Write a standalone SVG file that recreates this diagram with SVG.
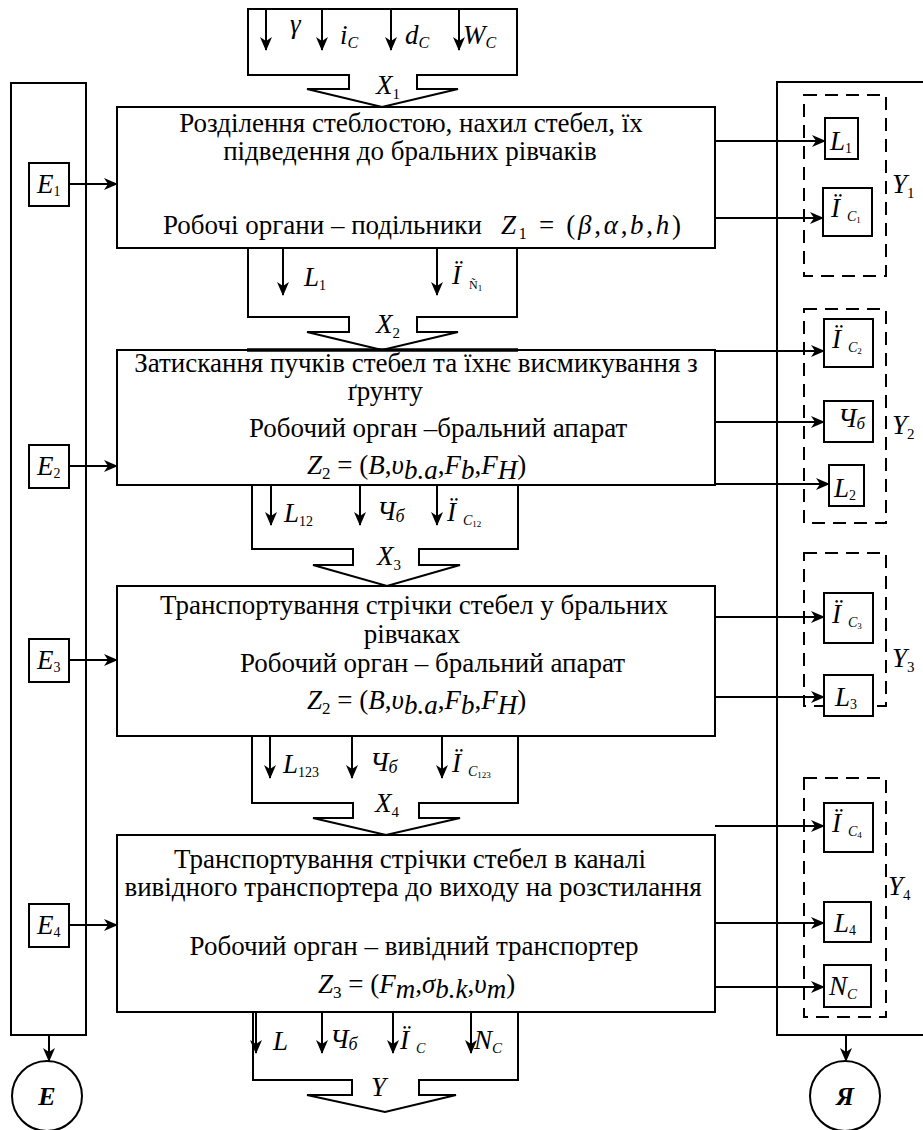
<svg xmlns="http://www.w3.org/2000/svg" width="923" height="1130" viewBox="0 0 923 1130">
<style>
.ln{stroke:#000;stroke-width:2;fill:none}
.bx{fill:#fff;stroke:#000;stroke-width:2}
.dsh{fill:none;stroke:#000;stroke-width:2;stroke-dasharray:13 8}
.t{font-family:"Liberation Serif","Times New Roman",serif;font-size:27px;fill:#000}
.m{font-family:"Liberation Serif","Times New Roman",serif;font-style:italic;font-size:27px;fill:#000}
.lb{font-family:"Liberation Serif","Times New Roman",serif;font-style:italic;font-size:27px;fill:#000}
.c{font-family:"Liberation Serif","Times New Roman",serif;font-style:italic;font-weight:bold;font-size:26px;fill:#000}
.ar{stroke:#000;stroke-width:2;fill:none;marker-end:url(#ah)}
</style>
<defs>
<marker id="ah" markerUnits="userSpaceOnUse" markerWidth="14" markerHeight="12" refX="13" refY="6" orient="auto">
<path d="M0,0 L14,6 L0,12 L4,6 Z" fill="#000"/>
</marker>
</defs>

<g id="E-column">
<rect class="bx" x="11" y="83" width="75" height="952"/>
</g>
<g id="Y-column">
<rect class="bx" x="777" y="82" width="160" height="953"/>
</g>

<g id="input-X1">
<path class="bx" d="M248,9 L517,9 L517,75 L417,75 L417,89 L458,89 L382,107 L307,89 L349,89 L349,75 L248,75 Z"/>
<text class="lb" x="290" y="33" font-size="24">γ</text>
<text class="lb" x="340" y="44">i<tspan font-size="16" dy="4">C</tspan></text>
<text class="lb" x="405" y="44">d<tspan font-size="16" dy="4">C</tspan></text>
<text class="lb" x="463" y="44">W<tspan font-size="16" dy="4">C</tspan></text>
<text class="m" x="376" y="94" font-size="26">X<tspan font-size="15" font-style="normal" dy="5">1</tspan></text>
</g>

<g id="output-X2">
<path class="bx" d="M248,248 L248,317 L349,317 L349,332 L307,332 L382,350 L458,332 L417,332 L417,317 L517,317 L517,248"/>
<text class="lb" x="304" y="286">L<tspan font-size="14" font-style="normal" dy="4">1</tspan></text>
<text class="lb" x="452" y="284">Ï<tspan font-size="12" font-style="normal" dx="8" dy="5">Ñ</tspan><tspan font-size="9" font-style="normal" dy="2">1</tspan></text>
<text class="m" x="376" y="333" font-size="26">X<tspan font-size="15" font-style="normal" dy="5">2</tspan></text>
</g>

<g id="output-X3">
<path class="bx" d="M252,485 L252,549 L353,549 L353,565 L313,565 L387,586 L460,565 L419,565 L419,549 L518,549 L518,485"/>
<text class="lb" x="284" y="522">L<tspan font-size="14" font-style="normal" dy="4">12</tspan></text>
<text class="lb" x="377" y="520" font-size="24">Ч<tspan font-size="18" dy="2">б</tspan></text>
<text class="lb" x="447" y="521">Ï<tspan font-size="14" dx="7" dy="4">C</tspan><tspan font-size="9" font-style="normal" dy="2">12</tspan></text>
<text class="m" x="377" y="565" font-size="26">X<tspan font-size="15" font-style="normal" dy="5">3</tspan></text>
</g>

<g id="output-X4">
<path class="bx" d="M252,736 L252,803 L353,803 L353,818 L313,818 L386,835 L460,818 L419,818 L419,803 L518,803 L518,736"/>
<text class="lb" x="283" y="773">L<tspan font-size="14" font-style="normal" dy="4">123</tspan></text>
<text class="lb" x="370" y="771" font-size="24">Ч<tspan font-size="18" dy="2">б</tspan></text>
<text class="lb" x="452" y="772">Ï<tspan font-size="14" dx="7" dy="4">C</tspan><tspan font-size="9" font-style="normal" dy="2">123</tspan></text>
<text class="m" x="375" y="812" font-size="26">X<tspan font-size="15" font-style="normal" dy="5">4</tspan></text>
</g>

<g id="output-Y">
<path class="bx" d="M253,1012 L253,1080 L352,1080 L352,1095 L307,1095 L385,1112 L456,1095 L419,1095 L419,1080 L518,1080 L518,1012"/>
<text class="lb" x="273" y="1050">L</text>
<text class="lb" x="330" y="1048" font-size="24">Ч<tspan font-size="18" dy="2">б</tspan></text>
<text class="lb" x="400" y="1049">Ï<tspan font-size="14" dx="7" dy="4">C</tspan></text>
<text class="lb" x="474" y="1049">N<tspan font-size="15" dy="4">C</tspan></text>
<text class="m" x="371" y="1096" font-size="26">Y</text>
</g>

<g id="block1">
<rect class="bx" x="117" y="107" width="598" height="141"/>
<text class="t" x="411" y="132" text-anchor="middle">Розділення стеблостою, нахил стебел, їх</text>
<text class="t" x="410" y="160" text-anchor="middle">підведення до бральних рівчаків</text>
<text class="t" x="163" y="234">Робочі органи – подільники</text>
<text class="t" x="501" y="234" textLength="180" lengthAdjust="spacing"><tspan class="m" font-size="31">Z</tspan><tspan font-size="16" dy="5">1</tspan><tspan dy="-5"> = (</tspan><tspan class="m" font-size="31">β</tspan>,<tspan class="m" font-size="31">α</tspan>,<tspan class="m" font-size="31">b</tspan>,<tspan class="m" font-size="31">h</tspan>)</text>
</g>

<g id="block2">
<rect class="bx" x="117" y="350" width="598" height="135"/>
<text class="t" x="416" y="372" text-anchor="middle">Затискання пучків стебел та їхнє висмикування з</text>
<text class="t" x="385" y="400" text-anchor="middle">ґрунту</text>
<text class="t" x="249" y="437">Робочий орган –бральний апарат</text>
<text class="t" x="307" y="474"><tspan class="m">Z</tspan><tspan font-size="17" dy="5">2</tspan><tspan dy="-5"> = (</tspan><tspan class="m">B</tspan>,<tspan class="m">υ</tspan><tspan class="m" font-size="17" dy="5">b.a</tspan><tspan dy="-5">,</tspan><tspan class="m">F</tspan><tspan class="m" font-size="17" dy="5">b</tspan><tspan dy="-5">,</tspan><tspan class="m">F</tspan><tspan class="m" font-size="17" dy="5">H</tspan><tspan dy="-5">)</tspan></text>
</g>

<g id="block3">
<rect class="bx" x="117" y="586" width="598" height="150"/>
<text class="t" x="414" y="614" text-anchor="middle">Транспортування стрічки стебел у бральних</text>
<text class="t" x="412" y="643" text-anchor="middle">рівчаках</text>
<text class="t" x="240" y="672">Робочий орган – бральний апарат</text>
<text class="t" x="307" y="709"><tspan class="m">Z</tspan><tspan font-size="17" dy="5">2</tspan><tspan dy="-5"> = (</tspan><tspan class="m">B</tspan>,<tspan class="m">υ</tspan><tspan class="m" font-size="17" dy="5">b.a</tspan><tspan dy="-5">,</tspan><tspan class="m">F</tspan><tspan class="m" font-size="17" dy="5">b</tspan><tspan dy="-5">,</tspan><tspan class="m">F</tspan><tspan class="m" font-size="17" dy="5">H</tspan><tspan dy="-5">)</tspan></text>
</g>

<g id="block4">
<rect class="bx" x="117" y="835" width="598" height="177"/>
<text class="t" x="410" y="868" text-anchor="middle">Транспортування стрічки стебел в каналі</text>
<text class="t" x="413" y="896" text-anchor="middle">вивідного транспортера до виходу на розстилання</text>
<text class="t" x="414" y="955" text-anchor="middle">Робочий орган – вивідний транспортер</text>
<text class="t" x="318" y="993"><tspan class="m">Z</tspan><tspan font-size="17" dy="5">3</tspan><tspan dy="-5"> = (</tspan><tspan class="m">F</tspan><tspan class="m" font-size="17" dy="5">m</tspan><tspan dy="-5">,</tspan><tspan class="m">σ</tspan><tspan class="m" font-size="17" dy="5">b.k</tspan><tspan dy="-5">,</tspan><tspan class="m">υ</tspan><tspan class="m" font-size="17" dy="5">m</tspan><tspan dy="-5">)</tspan></text>
</g>

<line x1="247" y1="350" x2="518" y2="350" stroke="#000" stroke-width="3.5"/>

<g id="E1"><rect class="bx" x="29" y="163" width="40" height="43"/><text class="m" x="37" y="193">E<tspan font-size="14" font-style="normal" dy="3">1</tspan></text></g>
<g id="E2"><rect class="bx" x="29" y="445" width="40" height="43"/><text class="m" x="37" y="475">E<tspan font-size="14" font-style="normal" dy="3">2</tspan></text></g>
<g id="E3"><rect class="bx" x="29" y="639" width="40" height="43"/><text class="m" x="37" y="669">E<tspan font-size="14" font-style="normal" dy="3">3</tspan></text></g>
<g id="E4"><rect class="bx" x="29" y="904" width="40" height="43"/><text class="m" x="37" y="934">E<tspan font-size="14" font-style="normal" dy="3">4</tspan></text></g>

<g id="Y1">
<rect class="dsh" x="804" y="95" width="82" height="181"/>
<text class="lb" x="892" y="193">Y<tspan font-size="15" font-style="normal" dy="5">1</tspan></text>
<rect class="bx" x="825" y="118" width="33" height="41"/><text class="lb" x="830" y="150" font-size="29">L<tspan font-size="14" font-style="normal" dy="3">1</tspan></text>
<rect class="bx" x="823" y="188" width="49" height="48"/><text class="lb" x="831" y="217">Ï<tspan font-size="14" dx="7" dy="4">C</tspan><tspan font-size="9" font-style="normal" dy="2">1</tspan></text>
</g>
<g id="Y2">
<rect class="dsh" x="804" y="309" width="82" height="214"/>
<text class="lb" x="892" y="434">Y<tspan font-size="15" font-style="normal" dy="5">2</tspan></text>
<rect class="bx" x="824" y="319" width="49" height="48"/><text class="lb" x="832" y="348">Ï<tspan font-size="14" dx="7" dy="4">C</tspan><tspan font-size="9" font-style="normal" dy="2">2</tspan></text>
<rect class="bx" x="824" y="401" width="49" height="41"/><text class="lb" x="838" y="427" font-size="22">Ч<tspan font-size="17" dy="2">б</tspan></text>
<rect class="bx" x="829" y="465" width="35" height="41"/><text class="lb" x="834" y="497" font-size="29">L<tspan font-size="14" font-style="normal" dy="3">2</tspan></text>
</g>
<g id="Y3">
<rect class="dsh" x="804" y="553" width="82" height="153"/>
<text class="lb" x="892" y="667">Y<tspan font-size="15" font-style="normal" dy="5">3</tspan></text>
<rect class="bx" x="824" y="593" width="49" height="50"/><text class="lb" x="832" y="623">Ï<tspan font-size="14" dx="7" dy="4">C</tspan><tspan font-size="9" font-style="normal" dy="2">3</tspan></text>
<rect class="bx" x="824" y="675" width="49" height="41"/><text class="lb" x="835" y="706" font-size="29">L<tspan font-size="14" font-style="normal" dy="3">3</tspan></text>
</g>
<g id="Y4">
<rect class="dsh" x="804" y="778" width="82" height="239"/>
<text class="lb" x="888" y="895">Y<tspan font-size="15" font-style="normal" dy="5">4</tspan></text>
<rect class="bx" x="824" y="803" width="49" height="49"/><text class="lb" x="832" y="832">Ï<tspan font-size="14" dx="7" dy="4">C</tspan><tspan font-size="9" font-style="normal" dy="2">4</tspan></text>
<rect class="bx" x="824" y="902" width="47" height="40"/><text class="lb" x="834" y="932" font-size="29">L<tspan font-size="14" font-style="normal" dy="3">4</tspan></text>
<rect class="bx" x="824" y="965" width="47" height="42"/><text class="lb" x="829" y="995">N<tspan font-size="15" dy="4">C</tspan></text>
</g>

<g id="circle-E"><circle class="bx" cx="47" cy="1096" r="35"/><text class="c" x="47" y="1105" text-anchor="middle">E</text></g>
<g id="circle-Ya"><circle class="bx" cx="845" cy="1096" r="35"/><text class="c" x="845" y="1105" text-anchor="middle">Я</text></g>

<g id="connectors">
<line class="ar" x1="266" y1="9" x2="266" y2="50"/>
<line class="ar" x1="322" y1="9" x2="322" y2="50"/>
<line class="ar" x1="391" y1="9" x2="391" y2="50"/>
<line class="ar" x1="459" y1="9" x2="459" y2="50"/>
<line class="ar" x1="283" y1="248" x2="283" y2="295"/>
<line class="ar" x1="437" y1="248" x2="437" y2="295"/>
<line class="ar" x1="271" y1="485" x2="271" y2="525"/>
<line class="ar" x1="360" y1="485" x2="360" y2="525"/>
<line class="ar" x1="437" y1="485" x2="437" y2="525"/>
<line class="ar" x1="270" y1="736" x2="270" y2="778"/>
<line class="ar" x1="352" y1="736" x2="352" y2="778"/>
<line class="ar" x1="442" y1="736" x2="442" y2="778"/>
<line class="ar" x1="256" y1="1012" x2="256" y2="1053"/>
<line class="ar" x1="322" y1="1012" x2="322" y2="1053"/>
<line class="ar" x1="393" y1="1012" x2="393" y2="1053"/>
<line class="ar" x1="471" y1="1012" x2="471" y2="1053"/>
<line class="ar" x1="69" y1="184" x2="117" y2="184"/>
<line class="ar" x1="69" y1="466" x2="117" y2="466"/>
<line class="ar" x1="69" y1="660" x2="117" y2="660"/>
<line class="ar" x1="69" y1="925" x2="117" y2="925"/>
<line class="ar" x1="715" y1="141" x2="825" y2="141"/>
<line class="ar" x1="715" y1="218" x2="823" y2="218"/>
<line class="ar" x1="715" y1="351" x2="824" y2="351"/>
<line class="ar" x1="715" y1="422" x2="824" y2="422"/>
<line class="ar" x1="715" y1="484" x2="829" y2="484"/>
<line class="ar" x1="715" y1="617" x2="824" y2="617"/>
<line class="ar" x1="715" y1="697" x2="824" y2="697"/>
<line class="ar" x1="715" y1="826" x2="824" y2="826"/>
<line class="ar" x1="715" y1="923" x2="824" y2="923"/>
<line class="ar" x1="715" y1="987" x2="824" y2="987"/>
<line class="ar" x1="49" y1="1035" x2="49" y2="1061"/>
<line class="ar" x1="846" y1="1035" x2="846" y2="1061"/>
</g>
</svg>
